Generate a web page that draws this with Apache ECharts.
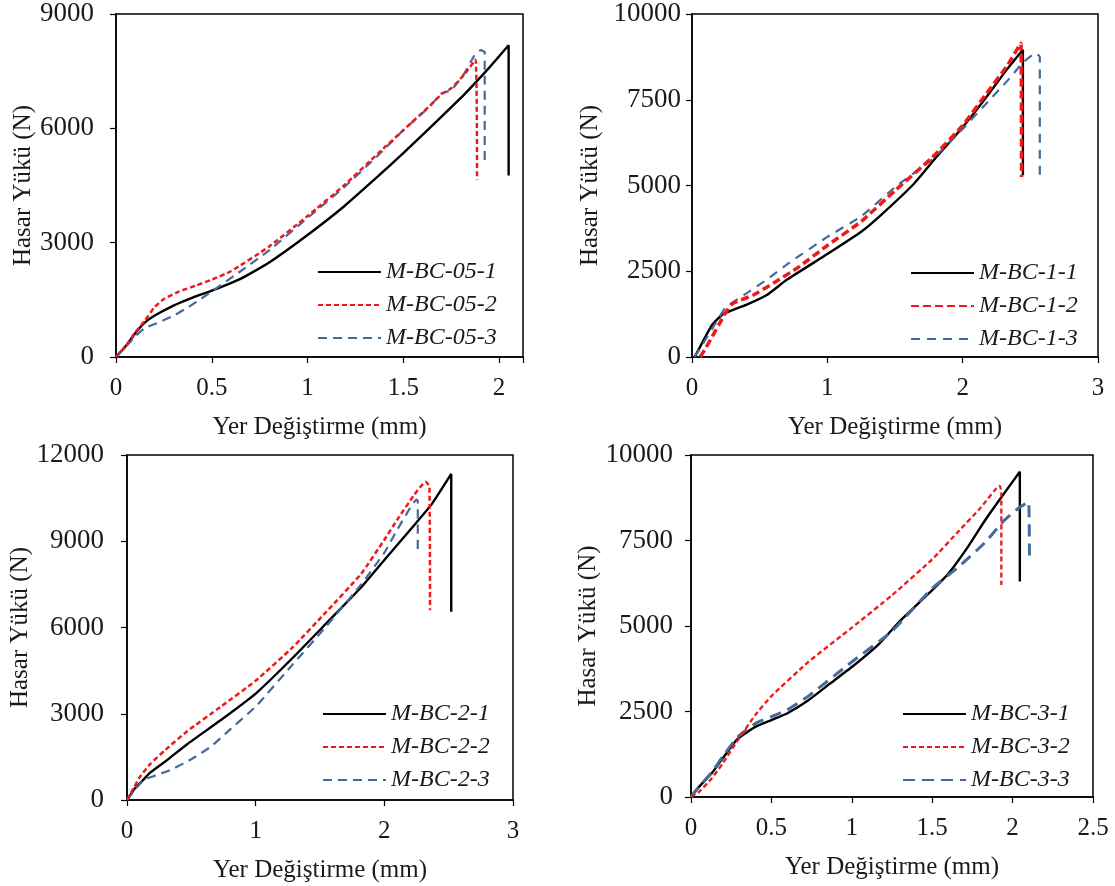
<!DOCTYPE html>
<html>
<head>
<meta charset="utf-8">
<script src="https://cdn.jsdelivr.net/npm/echarts@6/dist/echarts.min.js"></script>
<style>html,body{margin:0;padding:0;background:#fff;}#c{width:1115px;height:886px;}</style>
</head>
<body>
<div id="c"></div>
<script>
// ---------- data (x: displacement mm, y: load N) ----------
const names05 = ['M-BC-05-1', 'M-BC-05-2', 'M-BC-05-3'];
const names1 = ['M-BC-1-1', 'M-BC-1-2', 'M-BC-1-3'];
const names2 = ['M-BC-2-1', 'M-BC-2-2', 'M-BC-2-3'];
const names3 = ['M-BC-3-1', 'M-BC-3-2', 'M-BC-3-3'];

const mbc05_1 = [[0,0],[0.05,280],[0.1,620],[0.15,900],[0.2,1080],[0.3,1350],[0.4,1560],[0.5,1740],[0.65,2050],[0.8,2480],[1.0,3200],[1.19,3950],[1.37,4750],[1.5,5350],[1.64,6020],[1.82,6900],[1.95,7600],[2.05,8180],[2.05,4760]];
const mbc05_2 = [[0,0],[0.05,280],[0.1,640],[0.15,950],[0.2,1300],[0.25,1520],[0.33,1720],[0.42,1880],[0.5,2030],[0.6,2250],[0.8,2900],[1.0,3700],[1.19,4500],[1.37,5350],[1.5,5950],[1.64,6600],[1.7,6900],[1.75,7050],[1.82,7420],[1.877,7800],[1.885,4650]];
const mbc05_3 = [[0,0],[0.05,260],[0.1,540],[0.15,760],[0.2,860],[0.3,1080],[0.4,1380],[0.5,1720],[0.65,2250],[0.8,2800],[1.0,3650],[1.19,4450],[1.37,5300],[1.5,5950],[1.64,6580],[1.7,6920],[1.75,7000],[1.82,7450],[1.87,7900],[1.905,8050],[1.925,8000],[1.925,5050]];

const mbc1_1 = [[0.02,0],[0.08,450],[0.15,950],[0.23,1250],[0.4,1520],[0.55,1800],[0.7,2250],[1.0,3000],[1.25,3650],[1.4,4150],[1.64,5050],[1.8,5800],[2.0,6700],[2.17,7550],[2.33,8400],[2.445,8960],[2.445,5300]];
const mbc1_2 = [[0.06,0],[0.1,250],[0.15,600],[0.2,950],[0.25,1300],[0.3,1560],[0.45,1800],[0.6,2150],[0.78,2600],[1.0,3250],[1.25,3950],[1.5,4850],[1.77,5800],[2.0,6750],[2.17,7650],[2.33,8500],[2.43,9150],[2.435,5250]];
const mbc1_3 = [[0.02,0],[0.08,380],[0.13,700],[0.2,1150],[0.25,1450],[0.4,1850],[0.55,2250],[0.72,2750],[1.0,3500],[1.25,4100],[1.5,4950],[1.77,5750],[2.0,6650],[2.2,7500],[2.33,8050],[2.45,8600],[2.54,8860],[2.57,8750],[2.57,5250]];

const mbc2_1 = [[0,0],[0.06,400],[0.13,720],[0.18,950],[0.3,1350],[0.47,1950],[0.73,2780],[1.0,3700],[1.285,4930],[1.55,6150],[1.82,7400],[2.0,8350],[2.23,9550],[2.37,10300],[2.52,11340],[2.52,6550]];
const mbc2_2 = [[0,0],[0.05,400],[0.1,800],[0.18,1250],[0.3,1750],[0.47,2400],[0.73,3250],[1.0,4150],[1.285,5300],[1.55,6550],[1.82,7870],[2.0,9050],[2.1,9750],[2.23,10600],[2.32,11070],[2.35,10900],[2.355,6600]];
const mbc2_3 = [[0,0],[0.07,400],[0.13,700],[0.2,820],[0.34,1050],[0.5,1420],[0.65,1850],[0.8,2450],[1.0,3250],[1.285,4700],[1.55,6050],[1.82,7500],[2.0,8600],[2.1,9400],[2.2,10150],[2.25,10450],[2.26,10400],[2.26,8600]];

const mbc3_1 = [[0,0],[0.05,300],[0.13,700],[0.2,1150],[0.29,1700],[0.4,2050],[0.5,2250],[0.6,2450],[0.73,2830],[0.86,3300],[1.0,3800],[1.17,4480],[1.3,5150],[1.5,6050],[1.6,6530],[1.72,7300],[1.83,8100],[1.94,8830],[2.045,9510],[2.045,6300]];
const mbc3_2 = [[0,0],[0.05,150],[0.13,550],[0.2,1000],[0.29,1650],[0.4,2400],[0.5,2950],[0.73,3950],[1.0,4950],[1.25,5900],[1.5,6950],[1.67,7800],[1.8,8450],[1.92,9100],[1.93,8900],[1.93,6200]];
const mbc3_3 = [[0,0],[0.05,300],[0.13,730],[0.2,1200],[0.29,1750],[0.4,2150],[0.5,2350],[0.6,2550],[0.73,2950],[1.0,3950],[1.25,4850],[1.5,6100],[1.67,6750],[1.83,7450],[1.94,8050],[2.03,8420],[2.08,8580],[2.1,8620],[2.105,6930]];

const xTitle = 'Yer Değiştirme (mm)';
const yTitle = 'Hasar Yükü (N)';

// ---------- layout ----------
const FONT = 'Liberation Serif, Times New Roman, serif';
const panels = [
  {grid:{left:116, top:14, width:407, height:343}, xmax:2.125, xint:0.5, ymax:9000, yint:3000, yMargin:22, yGap:80,
   legend:{left:317, top:260}, names:names05, data:[mbc05_1, mbc05_2, mbc05_3],
   red:{w:2.5, d:[5,3]}, blue:{w:2.2, d:[9,6]}},
  {grid:{left:692, top:14, width:406, height:343}, xmax:3, xint:1, ymax:10000, yint:2500, yMargin:11, yGap:89,
   legend:{left:910, top:261}, names:names1, data:[mbc1_1, mbc1_2, mbc1_3],
   red:{w:3.5, d:[8,4]}, blue:{w:2.2, d:[9,7]}},
  {grid:{left:127, top:455, width:386, height:345}, xmax:3, xint:1, ymax:12000, yint:3000, yMargin:23, yGap:90,
   legend:{left:322, top:702}, names:names2, data:[mbc2_1, mbc2_2, mbc2_3],
   red:{w:2.5, d:[5,3]}, blue:{w:2.2, d:[9,6]}},
  {grid:{left:691, top:455, width:402, height:342}, xmax:2.5, xint:0.5, ymax:10000, yint:2500, yMargin:18, yGap:90,
   legend:{left:902, top:702}, names:names3, data:[mbc3_1, mbc3_2, mbc3_3],
   red:{w:2.3, d:[5,3]}, blue:{w:3, d:[12,7]}}
];

const grids = [], xAxes = [], yAxes = [], series = [], legends = [];
panels.forEach((p, i) => {
  grids.push(Object.assign({show:true, borderColor:'#000', borderWidth:1.5, backgroundColor:'transparent'}, p.grid));
  xAxes.push({
    type:'value', gridIndex:i, min:0, max:p.xmax, interval:p.xint,
    name:xTitle, nameLocation:'middle', nameGap:58,
    nameTextStyle:{fontFamily:FONT, fontSize:25, color:'#1a1a1a'},
    axisLine:{show:true, onZero:false, lineStyle:{color:'#000', width:1.5}},
    axisTick:{show:true, inside:false, length:6, lineStyle:{color:'#000', width:1.2}},
    axisLabel:{fontFamily:FONT, fontSize:25, color:'#1a1a1a', margin:19,
      formatter:v => (Math.abs(v/p.xint - Math.round(v/p.xint)) < 1e-6) ? String(+v.toFixed(2)) : ''},
    splitLine:{show:false}
  });
  yAxes.push({
    type:'value', gridIndex:i, min:0, max:p.ymax, interval:p.yint,
    name:yTitle, nameLocation:'middle', nameGap:p.yGap,
    nameTextStyle:{fontFamily:FONT, fontSize:25, color:'#1a1a1a'},
    axisLine:{show:true, lineStyle:{color:'#000', width:1.5}},
    axisTick:{show:true, inside:false, length:6, lineStyle:{color:'#000', width:1.2}},
    axisLabel:{fontFamily:FONT, fontSize:27, color:'#1a1a1a', margin:p.yMargin, formatter:v => String(v)},
    splitLine:{show:false}
  });
  const styles = [
    {color:'#000000', width:2.4, type:'solid', z:2},
    {color:'#f01818', width:p.red.w, type:p.red.d, z:4},
    {color:'#44699a', width:p.blue.w, type:p.blue.d, z:3}
  ];
  p.data.forEach((d, k) => {
    series.push({
      type:'line', name:p.names[k], xAxisIndex:i, yAxisIndex:i, data:d,
      symbol:'none', showSymbol:false, smooth:0.15, animation:false,
      color:styles[k].color,
      lineStyle:{color:styles[k].color, width:styles[k].width, type:styles[k].type},
      z: styles[k].z
    });
  });
  legends.push({
    data:p.names, orient:'vertical', left:p.legend.left, top:p.legend.top,
    itemWidth:63, itemHeight:14, itemGap:9, padding:0,
    itemStyle:{opacity:0},
    textStyle:{fontFamily:FONT, fontSize:24, fontStyle:'italic', color:'#1a1a1a'},
    selectedMode:false
  });
});

const chart = echarts.init(document.getElementById('c'), null, {renderer:'canvas'});
chart.setOption({
  backgroundColor:'#ffffff',
  animation:false,
  grid:grids, xAxis:xAxes, yAxis:yAxes, series:series, legend:legends
});
</script>
</body>
</html>
